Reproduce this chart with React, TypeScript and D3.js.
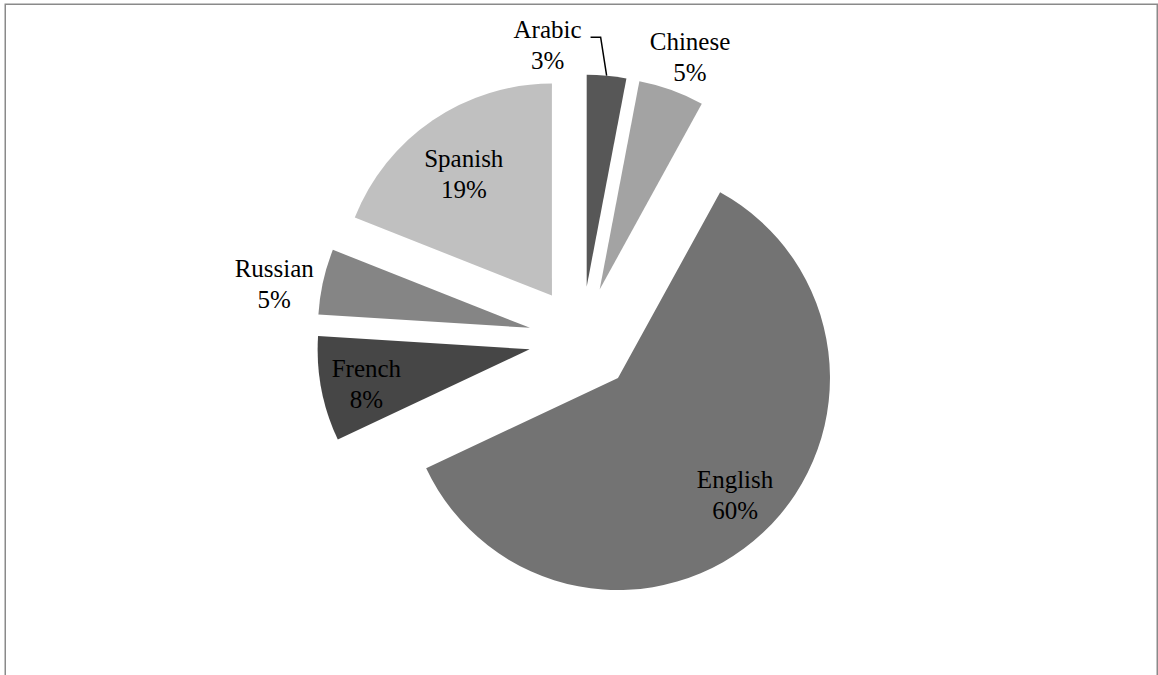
import React from "react";
import * as d3 from "d3";

const categories = ["Arabic", "Chinese", "English", "French", "Russian", "Spanish"];
const values = [3, 5, 60, 8, 5, 19];
const percentLabels = ["3%", "5%", "60%", "8%", "5%", "19%"];
const colors = ["#575757", "#a3a3a3", "#737373", "#464646", "#858585", "#c0c0c0"];

// layout (not data): radial distance of label centre from pie centre, and pixel nudges
const labelRadius = [296, 302, 208, 208, 313, 208];
const labelNudge: [number, number][] = [
  [-62, 1],
  [6, 2],
  [11, 4],
  [-11, 6],
  [-2, 13],
  [-1, 7],
];

const W = 1158;
const H = 675;
const CX = 581.7;
const CY = 339.4;
const R = 212;
const EXPLODE = 53;
const FONT = 25;
const LINE = 31;

export default function App() {
  const pie = d3
    .pie<number>()
    .sort(null)
    .value((d) => d)
    .startAngle(0)
    .endAngle(2 * Math.PI);
  const arcs = pie(values);
  const arc = d3.arc<d3.PieArcDatum<number>>().innerRadius(0).outerRadius(R);

  return (
    <svg
      width={W}
      height={H}
      style={{ position: "absolute", left: 0, top: 0, background: "#fff" }}
    >
      <rect x={5.25} y={4.25} width={1152} height={760} fill="#fff" stroke="#8a8a8a" strokeWidth={1.5} />
      <g transform={`translate(${CX},${CY})`}>
        {arcs.map((a, i) => {
          const mid = (a.startAngle + a.endAngle) / 2;
          const dx = Math.sin(mid) * EXPLODE;
          const dy = -Math.cos(mid) * EXPLODE;
          return (
            <path
              key={categories[i]}
              d={arc(a) || ""}
              transform={`translate(${dx},${dy})`}
              fill={colors[i]}
            />
          );
        })}
        {arcs.map((a, i) => {
          const mid = (a.startAngle + a.endAngle) / 2;
          const lx = Math.sin(mid) * labelRadius[i] + labelNudge[i][0];
          const ly = -Math.cos(mid) * labelRadius[i] + labelNudge[i][1];
          const b1 = ly - 7.5;
          return (
            <text
              key={"l" + categories[i]}
              textAnchor="middle"
              fontFamily="'Liberation Serif', 'Times New Roman', serif"
              fontSize={FONT}
              fill="#000"
            >
              <tspan x={lx} y={b1}>
                {categories[i]}
              </tspan>
              <tspan x={lx} y={b1 + LINE}>
                {percentLabels[i]}
              </tspan>
            </text>
          );
        })}
        {(() => {
          const a = arcs[0];
          const mid = (a.startAngle + a.endAngle) / 2;
          const ex = Math.sin(mid) * (EXPLODE + R);
          const ey = -Math.cos(mid) * (EXPLODE + R);
          const lx = Math.sin(mid) * labelRadius[0] + labelNudge[0][0];
          const ly = -Math.cos(mid) * labelRadius[0] + labelNudge[0][1];
          const sx = lx + 43;
          const sy = ly - 8.5;
          return (
            <polyline
              points={`${sx},${sy} ${ex - 6},${sy} ${ex},${ey}`}
              fill="none"
              stroke="#000"
              strokeWidth={1.5}
            />
          );
        })()}
      </g>
    </svg>
  );
}
